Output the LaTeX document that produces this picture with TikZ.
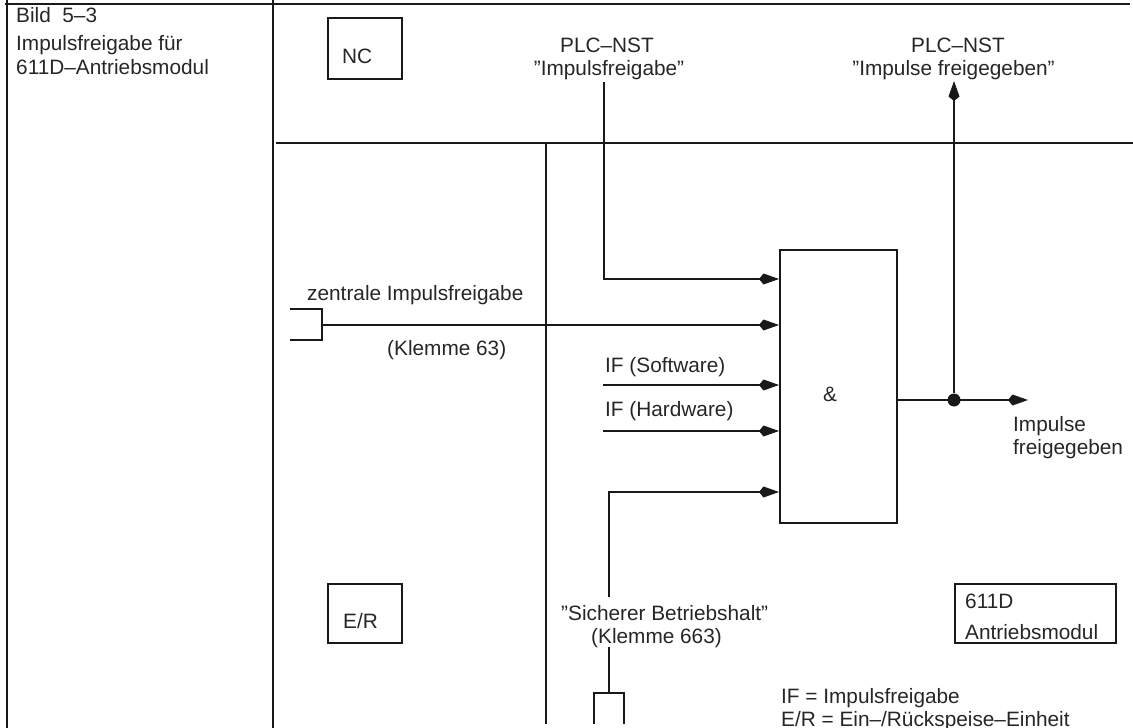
\documentclass[tikz,border=0pt]{standalone}
\usepackage{fontspec}
\setmainfont{Liberation Sans}
\usetikzlibrary{arrows.meta}
\tikzset{
  x=1pt,y=-1pt,
  wire/.style={line width=2pt,draw=black!90},
  frameline/.style={line width=1.5pt,draw=black!90},
  arrowwire/.style={wire,-{Kite[length=20pt,width=11pt,inset=4.5pt]}},
  boxed/.style={draw=black!90,line width=2pt,fill=none,anchor=north west,inner sep=0pt},
  txt/.style={inner sep=0pt,anchor=base west,font=\fontsize{20.8}{25}\selectfont,text=black!85},
  dotn/.style={circle,fill=black!90,inner sep=0pt,minimum size=13pt},
}
\begin{document}
\begin{tikzpicture}
\useasboundingbox (0,0) rectangle (1133,728);
% frame
\coordinate (tl) at (5,4); \coordinate (tr) at (1130,4);
\coordinate (l0) at (7,0); \coordinate (l1) at (7,728);
\coordinate (m0) at (273,0); \coordinate (m1) at (273,728);
\draw[frameline] (tl) -- (tr);
\draw[frameline,line width=2pt] (l0) -- (l1);
\draw[frameline] (m0) -- (m1);
\node[txt] (t1) at (16,23) {Bild\ \ 5–3};
\node[txt] (t2) at (16,50) {Impulsfreigabe für};
\node[txt] (t3) at (16,74) {611D–Antriebsmodul};
% boxes
\node[boxed,minimum width=74pt,minimum height=61pt] (nc) at (327,17) {};
\node[txt] (nct) at (342,63) {NC};
\node[boxed,minimum width=74pt,minimum height=59pt] (er) at (327,583) {};
\node[txt] (ert) at (343,628) {E/R};
\node[boxed,minimum width=161pt,minimum height=59pt] (mod) at (954,583) {};
\node[txt] (modt) at (965,608) {611D};
\node[txt] (modu) at (965,639) {Antriebsmodul};
\node[boxed,minimum width=117pt,minimum height=273pt] (and) at (779,249) {};
\node[txt] (amp) at (823,401) {\&};
% bus
\coordinate (b0) at (276,143); \coordinate (b1) at (1133,143);
\draw[wire] (b0) -- (b1);
\coordinate (v0) at (546,143); \coordinate (v1) at (546,724);
\draw[wire] (v0) -- (v1);
% PLC labels
\node[txt,anchor=base] (p1) at (607,52) {PLC–NST};
\node[txt,anchor=base] (p2) at (609,75) {”Impulsfreigabe”};
\node[txt,anchor=base] (q1) at (958,52) {PLC–NST};
\node[txt,anchor=base] (q2) at (953.5,75) {”Impulse freigegeben”};
% inputs
\coordinate (a1) at (604,82); \coordinate (a2) at (779,279);
\draw[arrowwire] (a1) |- (a2);
\coordinate (c0) at (290,309); \coordinate (c1) at (322,309); \coordinate (c2) at (322,340); \coordinate (c3) at (290,340);
\draw[wire] (c0) -- (c1) -- (c2) -- (c3);
\coordinate (c4) at (322,325); \coordinate (c5) at (779,325);
\draw[arrowwire] (c4) -- (c5);
\node[txt] (zt) at (307,300) {zentrale Impulsfreigabe};
\node[txt] (zk) at (387,355) {(Klemme 63)};
\coordinate (i1) at (603,385); \coordinate (i2) at (779,385);
\draw[arrowwire] (i1) -- (i2);
\node[txt] (ist) at (605,372) {IF (Software)};
\coordinate (h1) at (603,431); \coordinate (h2) at (779,431);
\draw[arrowwire] (h1) -- (h2);
\node[txt] (iht) at (605,416) {IF (Hardware)};
\coordinate (sa) at (609,597); \coordinate (s3) at (779,492);
\draw[arrowwire] (sa) |- (s3);
\node[txt] (sl1) at (561,620) {”Sicherer Betriebshalt”};
\node[txt] (sl2) at (591,643) {(Klemme 663)};
\coordinate (sc) at (609,647);
\coordinate (sd) at (609,693);
\draw[wire] (sc) -- (sd);
\coordinate (e0) at (593.5,724); \coordinate (e1) at (593.5,693); \coordinate (e2) at (624,693); \coordinate (e3) at (624,724);
\draw[wire] (e0) -- (e1) -- (e2) -- (e3);
% output
\node[dotn] (dot) at (954,400) {};
\coordinate (o0) at (896,400); \coordinate (o1) at (1028,400);
\draw[arrowwire] (o0) -- (o1);
\coordinate (up) at (954,81);
\draw[arrowwire] (dot) -- (up);
\node[txt] (im) at (1013,431) {Impulse};
\node[txt] (fr) at (1013,454) {freigegeben};
\node[txt] (le1) at (781,703) {IF = Impulsfreigabe};
\node[txt] (le2) at (781,726) {E/R = Ein–/Rückspeise–Einheit};
\end{tikzpicture}
\end{document}
